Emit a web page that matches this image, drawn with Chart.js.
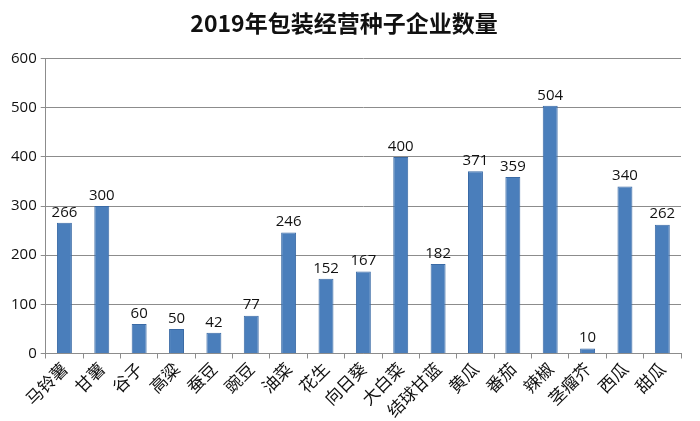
<!DOCTYPE html>
<html>
<head>
<meta charset="utf-8">
<script src="https://cdn.jsdelivr.net/npm/chart.js@4/dist/chart.umd.min.js"></script>
<style>
  body { margin: 0; background: #fff; }
  #wrap { width: 700px; height: 421px; }
</style>
</head>
<body>
<div id="wrap"><canvas id="c" width="700" height="421"></canvas></div>
<script>
const crops = ['马铃薯', '甘薯', '谷子', '高粱', '蚕豆', '豌豆', '油菜', '花生', '向日葵', '大白菜', '结球甘蓝', '黄瓜', '番茄', '辣椒', '茎瘤芥', '西瓜', '甜瓜']
const companies = [266, 300, 60, 50, 42, 77, 246, 152, 167, 400, 182, 371, 359, 504, 10, 340, 262]
const yTicks = [0, 100, 200, 300, 400, 500, 600]

// numbers above bars
const barLabels = {
  id: 'barLabels',
  afterDatasetsDraw(chart) {
    const ctx = chart.ctx
    const meta = chart.getDatasetMeta(0)
    ctx.save()
    ctx.font = '15px "Open Sans", sans-serif'
    ctx.fillStyle = '#111'
    ctx.textAlign = 'center'
    ctx.textBaseline = 'bottom'
    meta.data.forEach((bar, i) => {
      ctx.fillText(companies[i], bar.x, bar.y - 3)
    })
    ctx.restore()
  }
}

new Chart(
  document.getElementById('c'),
  {
    type: 'bar',
    data: {
      labels: crops,
      datasets: [
        {
          data: companies,
          backgroundColor: '#4a7ebb',
          borderColor: '#3a6aa5',
          borderWidth: 1,
          barPercentage: 0.4,
          categoryPercentage: 1
        }
      ]
    },
    options: {
      responsive: false,
      animation: false,
      layout: {
        padding: { left: 7, right: 19, top: 0, bottom: 0 }
      },
      scales: {
        y: {
          min: 0,
          max: 600,
          afterBuildTicks: axis => { axis.ticks = yTicks.map(v => ({ value: v })) },
          ticks: {
            color: '#111',
            font: { size: 15, family: '"Open Sans", sans-serif' },
            padding: 4
          },
          grid: {
            color: '#8c8c8c',
            tickLength: 5
          },
          border: { color: '#8c8c8c' }
        },
        x: {
          ticks: {
            color: '#111',
            font: { size: 17, family: '"Noto Sans CJK SC"' },
            minRotation: 45,
            maxRotation: 45,
            autoSkip: false,
            padding: 0
          },
          grid: {
            offset: true,
            drawOnChartArea: false,
            color: '#8c8c8c',
            tickLength: 5
          },
          border: { color: '#8c8c8c' }
        }
      },
      plugins: {
        legend: { display: false },
        tooltip: { enabled: false },
        title: {
          display: true,
          text: '2019年包装经营种子企业数量',
          color: '#111',
          font: { size: 23, weight: 'bold', family: '"Noto Sans CJK SC"' },
          padding: { top: 9, bottom: 22 }
        }
      }
    },
    plugins: [barLabels]
  }
)
</script>
</body>
</html>
